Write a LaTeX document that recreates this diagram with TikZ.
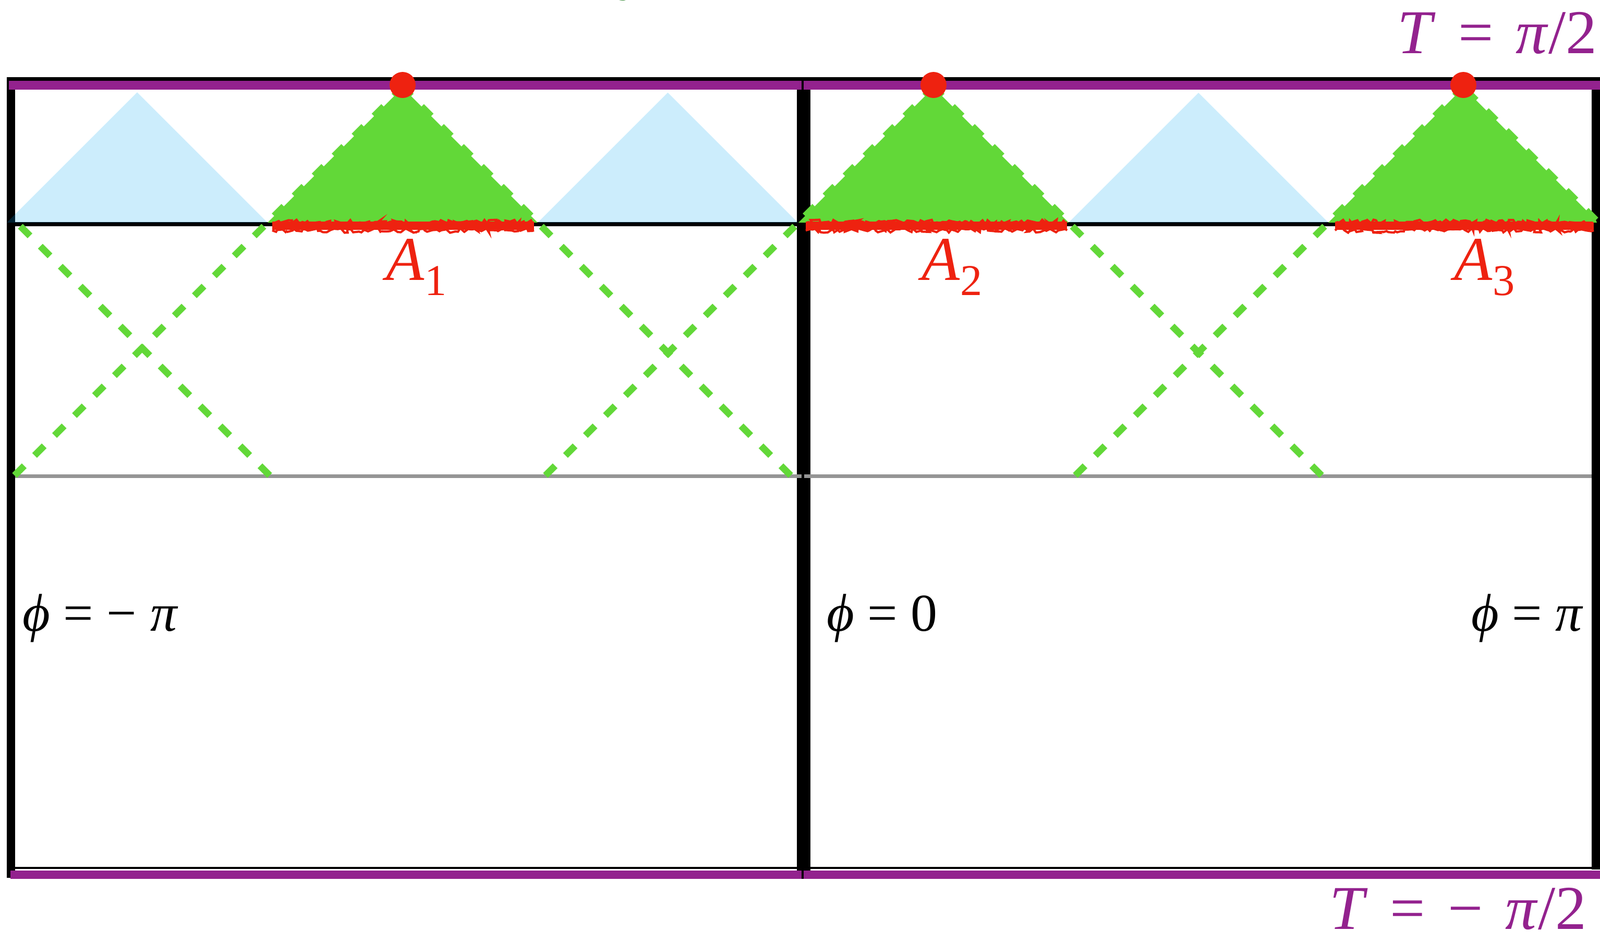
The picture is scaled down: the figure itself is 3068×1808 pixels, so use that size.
\documentclass[tikz,border=0pt]{standalone}
\usepackage{fontspec}
\setmainfont{Liberation Serif}
\usetikzlibrary{decorations.pathmorphing}
\definecolor{purp}{RGB}{147,34,142}
\definecolor{grn}{RGB}{98,216,56}
\definecolor{lblue}{RGB}{0,163,240}
\definecolor{redd}{RGB}{238,34,16}
\definecolor{grayl}{RGB}{149,149,149}
\definecolor{dgreen}{RGB}{0,106,0}
\newcommand{\gp}{\hspace{0.36em}}
\tikzset{
  sidebar/.style={black, line width=4.55pt},
  midbar/.style={black, line width=7.4pt},
  thinbar/.style={black, line width=2pt},
  purpbar/.style={purp, line width=4.8pt},
  ray/.style={draw=grn, line width=3.7pt, dash pattern=on 7.4pt off 8pt},
  cone/.style={fill=grn},
  shade/.style={fill=lblue, fill opacity=0.2},
  scrib/.style={redd, line width=4.3pt},
  rough/.style={redd, line width=1.2pt, decorate, decoration={random steps, segment length=1.5pt, amplitude=1.3pt}},
  dot/.style={circle, fill=redd, minimum size=14.2pt, inner sep=0},
  lbl/.style={font=\fontsize{34}{34}\selectfont, inner sep=0},
  philbl/.style={font=\fontsize{29}{29}\selectfont, inner sep=0},
}
\begin{document}
\begin{tikzpicture}[x=0.01cm,y=-0.01cm]
\useasboundingbox (0,0) rectangle (3068,1808);
% frame
\draw[sidebar] (21,148) -- (21,1684);
\draw[midbar] (1541,172) -- (1541,1670);
\draw[sidebar] (3060,148) -- (3060,1668);
\draw[thinbar] (13,151.5) -- (3068,151.5);
\draw[black, line width=1.1pt] (21,1665) -- (3060,1665);
% horizontal lines
\draw[black, line width=2pt] (21,430) -- (3060,430);
\draw[grayl, line width=2pt] (29,913) -- (1537,913);
\draw[grayl, line width=2pt] (1542,913) -- (3052,913);
% apexes and ends
\coordinate (ap1) at (772,168);
\coordinate (ap2) at (1790,168);
\coordinate (ap3) at (2806,168);
\coordinate (b1L) at (28,912);
\coordinate (b1R) at (1516,912);
\coordinate (b2L) at (1046,912);
\coordinate (b2R) at (2534,912);
\coordinate (b3L) at (2062,912);
\coordinate (e3R) at (3060,422);
\coordinate (w3a) at (25,420);
\coordinate (w3b) at (517,912);
% light blue shadows
\fill[shade] (13,427) -- (263,177) -- (513,427) -- cycle;
\fill[shade] (1031,427) -- (1280.5,177.5) -- (1530,427) -- cycle;
\fill[shade] (2049,427) -- (2298,178) -- (2547,427) -- cycle;
% green cones
\fill[cone] (ap1) -- (513,427) -- (1031,427) -- cycle;
\fill[cone] (ap2) -- (1531,427) -- (2049,427) -- cycle;
\fill[cone] (ap3) -- (2547,427) -- (3062,427) -- (3060,422) -- cycle;
% red scribbles
\draw[scrib] (522,433) -- (1024,433);
\draw[rough] (522,442) -- (1024,442);
\draw[rough] (525,426) -- (1020,426);
\draw[scrib] (1545,433) -- (2046,433);
\draw[rough] (1545,442) -- (2046,442);
\draw[rough] (1548,426) -- (2042,426);
\draw[scrib] (2560,433) -- (3056,433);
\draw[rough] (2560,442) -- (3056,442);
\draw[rough] (2563,426) -- (3052,426);
% dashed rays
\draw[ray] (b1L) -- (ap1);
\draw[ray] (b1R) -- (ap1);
\draw[ray] (b2L) -- (ap2);
\draw[ray] (b2R) -- (ap2);
\draw[ray] (b3L) -- (ap3);
\draw[ray] (e3R) -- (ap3);
\draw[ray] (w3b) -- (w3a);
% purple bars
\draw[purpbar] (17,163.5) -- (3068,163.5);
\draw[purpbar] (20,1678) -- (3068,1678);
\draw[black, line width=1.1pt] (1539,148) -- (1539,172);
\draw[black, line width=1.1pt] (1539,1670) -- (1539,1686);
% red dots
\node[dot] (d1) at (772,163) {};
\node[dot] (d2) at (1790,163) {};
\node[dot] (d3) at (2806,163) {};
% labels
\node[lbl, text=purp, anchor=base east] (Ttop) at (3063,102) {\textit{T}\gp=\gp\textit{π}/2};
\node[lbl, text=purp, anchor=base east] (Tbot) at (3043,1782) {\textit{T}\gp=\gp−\gp\textit{π}/2};
\node[philbl, anchor=base west] (phiL) at (43,1210) {\textit{ϕ} = − \textit{π}};
\node[philbl, anchor=base west] (phiM) at (1585,1210) {\textit{ϕ} = 0};
\node[philbl, anchor=base east] (phiR) at (3037,1210) {\textit{ϕ} = \textit{π}};
\node[lbl, text=redd, anchor=base west] (A1) at (740,537) {\textit{A}\raisebox{-8.5pt}{\fontsize{24}{24}\selectfont 1}};
\node[lbl, text=redd, anchor=base west] (A2) at (1767,537) {\textit{A}\raisebox{-8.5pt}{\fontsize{24}{24}\selectfont 2}};
\node[lbl, text=redd, anchor=base west] (A3) at (2788,537) {\textit{A}\raisebox{-8.5pt}{\fontsize{24}{24}\selectfont 3}};
\node[lbl, text=dgreen, anchor=base west] (ytop) at (1196,-25) {\textit{y}};
\end{tikzpicture}
\end{document}
